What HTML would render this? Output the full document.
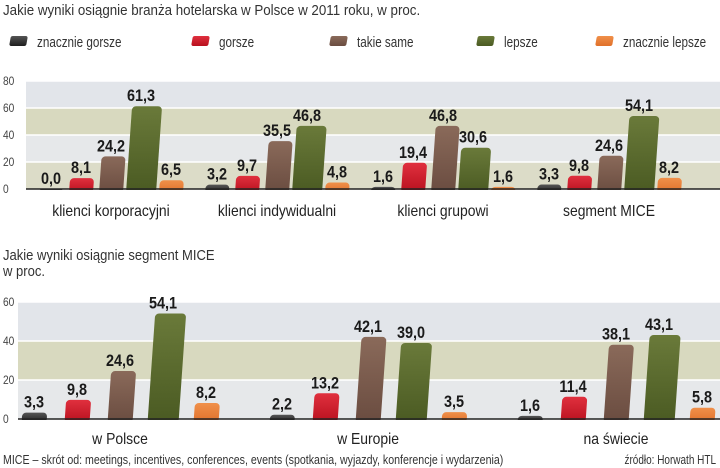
<!DOCTYPE html>
<html><head><meta charset="utf-8"><style>
body{margin:0;width:720px;height:468px;background:#fff;overflow:hidden}
svg{display:block;font-family:"Liberation Sans Narrow","Liberation Sans",sans-serif}
</style></head><body>
<svg id="c" width="720" height="468" viewBox="0 0 720 468">
<defs>
<linearGradient id="gk" x1="0" y1="0" x2="0" y2="1"><stop offset="0" stop-color="#555"/><stop offset="1" stop-color="#1e1e1e"/></linearGradient>
<linearGradient id="gr" x1="0" y1="0" x2="0" y2="1"><stop offset="0" stop-color="#e0303e"/><stop offset="1" stop-color="#b8101e"/></linearGradient>
<linearGradient id="gb" x1="0" y1="0" x2="0" y2="1"><stop offset="0" stop-color="#8a6a5a"/><stop offset="1" stop-color="#6a4c40"/></linearGradient>
<linearGradient id="gg" x1="0" y1="0" x2="0" y2="1"><stop offset="0" stop-color="#6a7a3a"/><stop offset="1" stop-color="#4a5a22"/></linearGradient>
<linearGradient id="go" x1="0" y1="0" x2="0" y2="1"><stop offset="0" stop-color="#f0904a"/><stop offset="1" stop-color="#e0702a"/></linearGradient>
</defs>
<text transform="translate(3,15) scale(0.89,1)" font-size="15" fill="#333">Jakie wyniki osiągnie branża hotelarska w Polsce w 2011 roku, w proc.</text>
<text transform="translate(3,260) scale(0.87,1)" font-size="15" fill="#333">Jakie wyniki osiągnie segment MICE</text>
<text transform="translate(3,276) scale(0.87,1)" font-size="15" fill="#333">w proc.</text>
<text transform="translate(3,464) scale(0.85,1)" font-size="12.5" fill="#333">MICE – skrót od: meetings, incentives, conferences, events (spotkania, wyjazdy, konferencje i wydarzenia)</text>
<text transform="translate(716,464) scale(0.8,1)" font-size="12.5" fill="#333" text-anchor="end">źródło: Horwath HTL</text>
<g id="legend"></g>
<g id="ch1"></g>
<g id="ch2"></g>
</svg>
<script>
const series = ["znacznie gorsze","gorsze","takie same","lepsze","znacznie lepsze"];
const groups1 = ["klienci korporacyjni","klienci indywidualni","klienci grupowi","segment MICE"];
const vals1 = [[0.0,8.1,24.2,61.3,6.5],[3.2,9.7,35.5,46.8,4.8],[1.6,19.4,46.8,30.6,1.6],[3.3,9.8,24.6,54.1,8.2]];
const ticks1 = [0,20,40,60,80];
const groups2 = ["w Polsce","w Europie","na świecie"];
const vals2 = [[3.3,9.8,24.6,54.1,8.2],[2.2,13.2,42.1,39.0,3.5],[1.6,11.4,38.1,43.1,5.8]];
const ticks2 = [0,20,40,60];
const fills = ["url(#gk)","url(#gr)","url(#gb)","url(#gg)","url(#go)"];
const NS="http://www.w3.org/2000/svg";
function mk(p,tag,a,txt){const e=document.createElementNS(NS,tag);for(const k in a)e.setAttribute(k,a[k]);if(txt!=null)e.textContent=txt;p.appendChild(e);return e;}
function tx(p,x,y,sx,a,txt){a.transform=`translate(${x},${y}) scale(${sx},1)`;return mk(p,'text',a,txt);}
const lg=document.getElementById('legend');
const lx=[10,192,330,477,596];
series.forEach((s,i)=>{
  const r=mk(lg,'rect',{x:lx[i],y:36,width:17,height:10,rx:2,fill:fills[i],transform:`skewX(-10)`,style:`transform-box:fill-box;transform-origin:center`});
  
  
  const t=tx(lg,lx[i]+27,47,0.78,{'font-size':15,fill:'#333'},s);
  
  
});
function chart(gid,groups,vals,ticks,o){
  const g=document.getElementById(gid);
  const max=ticks[ticks.length-1];
  const y=v=>o.y0-v/max*(o.y0-o.ytop);
  const bandCols=o.bands;
  for(let i=0;i<ticks.length-1;i++){
    const b=mk(g,'rect',{x:o.x0,y:y(ticks[i+1]),width:720-o.x0,height:y(ticks[i])-y(ticks[i+1]),fill:bandCols[i%bandCols.length]});
    
    
  }
  ticks.forEach(t=>{
    if(t>0){const l=mk(g,'line',{x1:o.x0,x2:720,y1:y(t),y2:y(t),stroke:'#fff','stroke-width':1.5});}
    const tt=tx(g,3,y(t)+4,0.85,{'font-size':12,fill:'#444'},String(t));
    
    
  });
  groups.forEach((gn,gi)=>{
    const c=o.c0+gi*o.gs;
    vals[gi].forEach((v,si)=>{
      const cx=c+(si-2)*o.bs;
      const w=si==3?o.bw+6:o.bw;
      const h=o.y0-y(v);
      const r=mk(g,'rect',{x:cx-w/2,y:y(v),width:w,height:Math.max(h,0)+4,rx:4,fill:fills[si],transform:`skewX(-4)`,style:'transform-box:fill-box;transform-origin:bottom'});
      
      
      const t=tx(g,cx,y(v)-5,0.85,{'font-size':o.fs,'font-weight':'bold',fill:'#1a1a1a','text-anchor':'middle'},v.toFixed(1).replace('.',','));
      
      
    });
    const lt=tx(g,c,o.y0+o.ly,0.87,{'font-size':16,fill:'#222','text-anchor':'middle'},gn);
    
    
  });
  const cover=mk(g,'rect',{x:o.x0,y:o.y0+1,width:720-o.x0,height:8,fill:'#fff'});
  
  
  const ax=mk(g,'line',{x1:o.x0,x2:720,y1:o.y0,y2:o.y0,stroke:'#222','stroke-width':1.5});
  
  
}
chart('ch1',groups1,vals1,ticks1,{x0:26,y0:189,ytop:81,c0:111,gs:166,bs:30,bw:24,fs:17,ly:27,bands:['#dcdcc8','#e6e8ea','#d8d9bf','#e2e5ea']});
chart('ch2',groups2,vals2,ticks2,{x0:18,y0:419,ytop:302,c0:120,gs:248,bs:43,bw:25,fs:17,ly:25,bands:['#e6e8ea','#d8d9bf','#e2e5ea']});
</script>
</body></html>
